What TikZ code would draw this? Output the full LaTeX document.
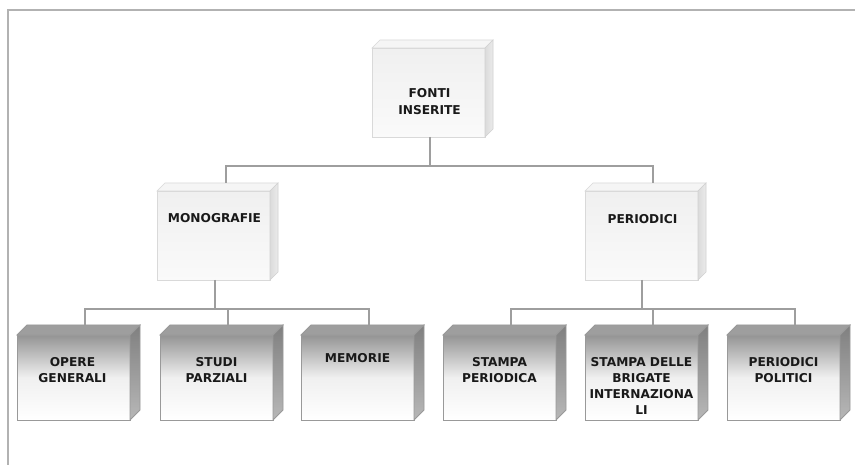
\documentclass[tikz,border=0pt]{standalone}
\usepackage{fontspec}
\setsansfont{DejaVu Sans}
\usetikzlibrary{calc}
\newcommand\cubefaces[4]{%
  \path[#3] (#1.north west) -- ++(#2,-#2) -- ($(#1.north east)+(#2,-#2)$) -- (#1.north east) -- cycle;
  \path[#4] (#1.north east) -- ++(#2,-#2) -- ($(#1.south east)+(#2,-#2)$) -- (#1.south east) -- cycle;}
\tikzset{
  lightbox/.style={rectangle, anchor=north west, inner sep=0pt, outer sep=0pt,
    minimum width=113pt, minimum height=89pt, draw=black!15, line width=0.6pt,
    top color=black!6, bottom color=black!2},
  lighttop/.style={draw=black!15, line width=0.6pt, fill=black!4},
  lightside/.style={draw=black!18, line width=0.6pt, left color=black!14, right color=black!8},
  darkbox/.style={rectangle, anchor=north west, inner sep=0pt, outer sep=0pt,
    minimum width=113pt, minimum height=85pt, draw=black!40, line width=0.8pt,
    top color=black!42, bottom color=white, middle color=black!6},
  darktop/.style={draw=black!40, line width=0.8pt, fill=black!38},
  darkside/.style={draw=black!40, line width=0.8pt, top color=black!50, bottom color=black!28},
  lbl/.style={anchor=north, inner sep=0pt, align=center, text=black!90,
    font=\sffamily\bfseries\fontsize{12.2}{16}\selectfont},
  conn/.style={draw=black!38, line width=1.6pt},
  frame/.style={draw=black!30, line width=1.6pt}
}
\begin{document}
\begin{tikzpicture}[x=1pt,y=-1pt]
\useasboundingbox (0,0) rectangle (855,465);
\fill[white] (0,0) rectangle (855,465);
\coordinate (fr-a) at (8,465);
\coordinate (fr-b) at (8,10);
\coordinate (fr-c) at (855,10);
\draw[frame] (fr-a) -- (fr-b) -- (fr-c);

% top level
\node[lightbox] (top) at (372,48) {};
\cubefaces{top}{8}{lighttop}{lightside}
\node[lbl, font=\sffamily\bfseries\fontsize{12.2}{17}\selectfont] (t-top) at ($(top.north)+(1,40.5)$) {FONTI\\INSERITE};

% middle level
\node[lightbox] (mono) at (157,191) {};
\cubefaces{mono}{8}{lighttop}{lightside}
\node[lbl] (t-mono) at ($(mono.north)+(1,22.5)$) {MONOGRAFIE};

\node[lightbox] (peri) at (585,191) {};
\cubefaces{peri}{8}{lighttop}{lightside}
\node[lbl] (t-peri) at ($(peri.north)+(1,23.5)$) {PERIODICI};

% bottom level
\foreach \n/\x in {opere/17, studi/160, mem/301, stampa/443, brig/585, pol/727}{
  \node[darkbox] (\n) at (\x,335) {};
  \cubefaces{\n}{10}{darktop}{darkside}
}
\node[lbl] (t-opere) at ($(opere.north)+(-1,22.5)$) {OPERE\\GENERALI};
\node[lbl] (t-studi) at ($(studi.north)+(0,22.5)$) {STUDI\\PARZIALI};
\node[lbl] (t-mem) at ($(mem.north)+(0,18)$) {MEMORIE};
\node[lbl] (t-stampa) at ($(stampa.north)+(0,22.5)$) {STAMPA\\PERIODICA};
\node[lbl] (t-brig) at ($(brig.north)+(0,22.5)$) {STAMPA DELLE\\BRIGATE\\INTERNAZIONA\\LI};
\node[lbl] (t-pol) at ($(pol.north)+(0,22.5)$) {PERIODICI\\POLITICI};

% connectors
\coordinate (mono-in) at ($(mono.north)+(12.5,-8)$);
\coordinate (peri-in) at ($(peri.north)+(11.5,-8)$);
\coordinate (bus1) at ($(top.south)+(1.5,29)$);
\draw[conn] ($(top.south)+(1.5,0)$) -- (bus1);
\draw[conn] (mono-in) |- (bus1) -| (peri-in);

\foreach \n in {opere, studi, mem, stampa, brig, pol}{
  \coordinate (\n-in) at ($(\n.north)+(11.5,-10)$);
}
\coordinate (bus2) at ($(mono.south)+(1.5,29)$);
\coordinate (bus3) at ($(peri.south)+(0.5,29)$);
\draw[conn] ($(mono.south)+(1.5,0)$) -- (bus2);
\draw[conn] ($(peri.south)+(0.5,0)$) -- (bus3);
\draw[conn] (opere-in) |- (bus2) -| (mem-in);
\draw[conn] (studi-in) -- (studi-in |- bus2);
\draw[conn] (stampa-in) |- (bus3) -| (pol-in);
\draw[conn] (brig-in) -- (brig-in |- bus3);
\end{tikzpicture}
\end{document}
